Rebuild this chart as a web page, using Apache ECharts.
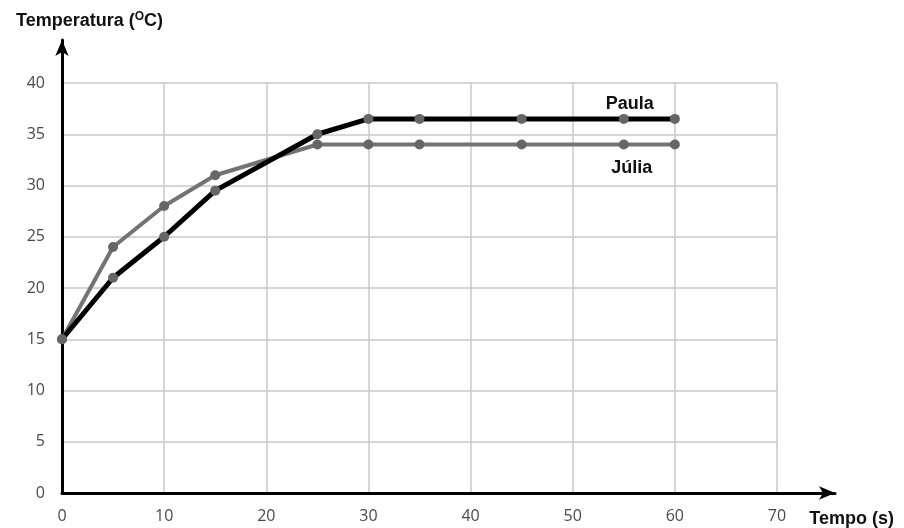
<!DOCTYPE html>
<html><head><meta charset="utf-8">
<script src="https://cdn.jsdelivr.net/npm/echarts@6/dist/echarts.min.js"></script>
<style>html,body{margin:0;padding:0;background:#fff}#c{width:904px;height:528px}</style>
</head><body><div id="c"></div>
<script>
var tempo = [0, 5, 10, 15, 25, 30, 35, 45, 55, 60];
var paula = [15, 21, 25, 29.5, 35, 36.5, 36.5, 36.5, 36.5, 36.5];
var julia = [15, 24, 28, 31, 34, 34, 34, 34, 34, 34];
var xTicks = [0, 10, 20, 30, 40, 50, 60, 70];
var yTicks = [0, 5, 10, 15, 20, 25, 30, 35, 40];

function pts(ys, name, off) {
  return tempo.map(function (t, i) {
    var d = { value: [t, ys[i]] };
    if (t === 55) {
      d.label = { show: true, formatter: name, offset: off, position: 'top',
        fontFamily: 'Liberation Sans, Arial', fontWeight: 'bold', fontSize: 18, color: '#111' };
    }
    return d;
  });
}

var tickFont = { fontSize: 16, color: '#4a4a4a', fontFamily: 'Open Sans, Liberation Sans' };

var chart = echarts.init(document.getElementById('c'));
chart.setOption({
  animation: false,
  grid: [
    { left: 62, right: 127, top: 83, bottom: 35 },
    { left: 62, right: 69, top: 40, bottom: 35 }
  ],
  xAxis: [
    { type: 'value', gridIndex: 0, min: xTicks[0], max: xTicks[xTicks.length - 1], interval: 10,
      axisLine: { show: false }, axisTick: { show: false },
      axisLabel: Object.assign({ margin: 15 }, tickFont),
      splitLine: { show: true, lineStyle: { color: '#c8c8c8', width: 1.5 } } },
    { type: 'value', gridIndex: 1, min: 0, max: 1,
      axisLine: { show: true, onZero: false, symbol: ['none', 'arrow'], symbolSize: [10, 16],
        lineStyle: { color: '#000', width: 3 } },
      axisTick: { show: false }, axisLabel: { show: false }, splitLine: { show: false } }
  ],
  yAxis: [
    { type: 'value', gridIndex: 0, min: yTicks[0], max: yTicks[yTicks.length - 1], interval: 5,
      axisLine: { show: false }, axisTick: { show: false },
      axisLabel: Object.assign({ margin: 17 }, tickFont),
      splitLine: { show: true, lineStyle: { color: '#c8c8c8', width: 1.5 } } },
    { type: 'value', gridIndex: 1, min: 0, max: 1,
      axisLine: { show: true, onZero: false, symbol: ['none', 'arrow'], symbolSize: [10, 16],
        lineStyle: { color: '#000', width: 3 } },
      axisTick: { show: false }, axisLabel: { show: false }, splitLine: { show: false } }
  ],
  title: [
    { text: 'Temperatura ({s|O}C)', left: 11, top: 6,
      textStyle: { fontFamily: 'Liberation Sans, Arial', fontWeight: 'bold', fontSize: 18, color: '#111',
        rich: { s: { fontFamily: 'Liberation Sans, Arial', fontWeight: 'bold', fontSize: 12, color: '#111', verticalAlign: 'top', padding: [0, 0, 9, 0] } } } },
    { text: 'Tempo (s)', right: 5, top: 505,
      textStyle: { fontFamily: 'Liberation Sans, Arial', fontWeight: 'bold', fontSize: 18, color: '#111' } }
  ],
  series: [
    { name: 'Júlia', type: 'line', xAxisIndex: 0, yAxisIndex: 0, data: pts(julia, 'Júlia', [8, 43]),
      symbol: 'circle', symbolSize: 10, lineStyle: { color: '#737373', width: 4 },
      itemStyle: { color: '#666' }, z: 3 },
    { name: 'Paula', type: 'line', xAxisIndex: 0, yAxisIndex: 0, data: pts(paula, 'Paula', [6, 4]),
      symbol: 'circle', symbolSize: 10, lineStyle: { color: '#000', width: 5 },
      itemStyle: { color: '#666' }, z: 4 }
  ]
});
</script></body></html>
